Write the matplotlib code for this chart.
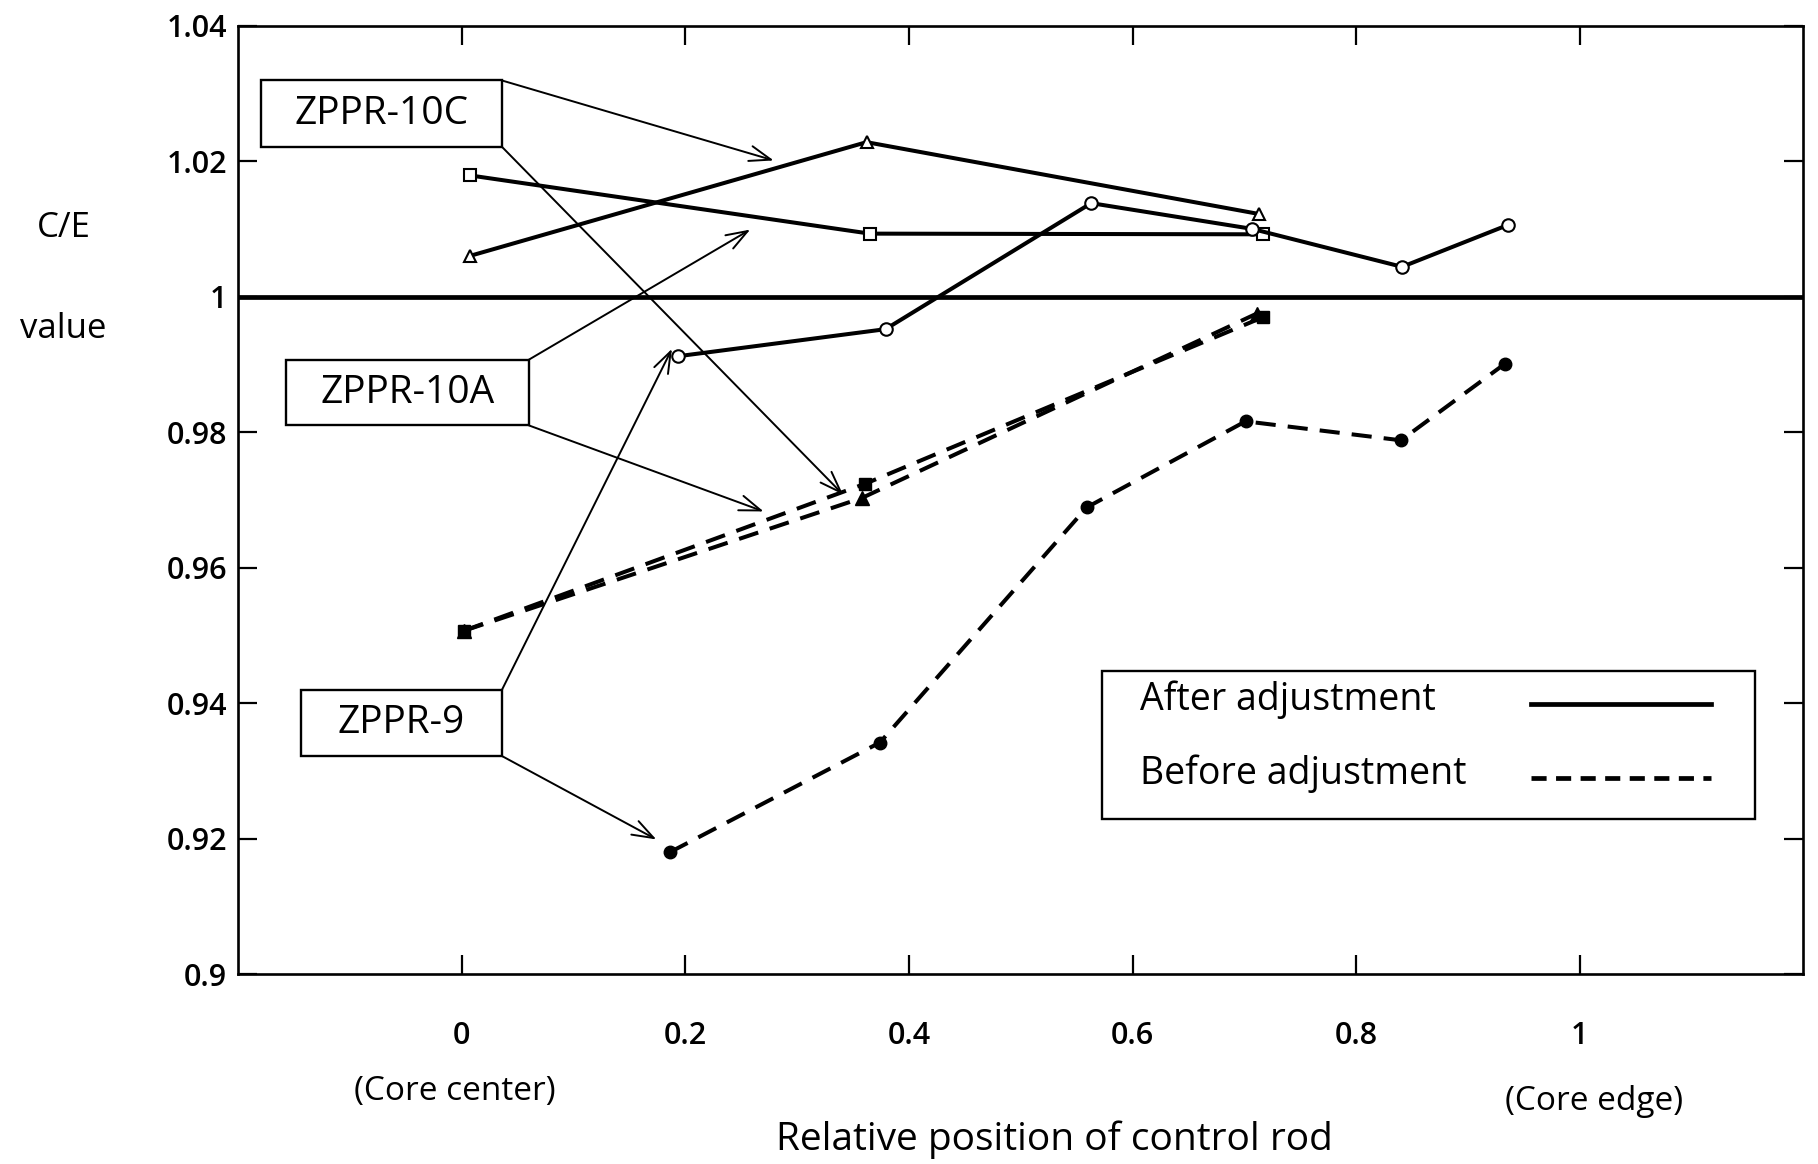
import matplotlib
matplotlib.use('Agg')
import matplotlib.pyplot as plt
from matplotlib.lines import Line2D
from matplotlib.patches import Rectangle
from matplotlib.transforms import blended_transform_factory

plt.rcParams['font.family'] = ['Open Sans', 'DejaVu Sans']

# ---------------- data ----------------
x_10c_after = [0.007, 0.362, 0.713]
y_10c_after = [1.0060, 1.0228, 1.0122]
x_10a_after = [0.007, 0.365, 0.717]
y_10a_after = [1.0179, 1.0093, 1.0092]
x_9_after = [0.193, 0.379, 0.563, 0.707, 0.841, 0.936]
y_9_after = [0.9912, 0.9952, 1.0138, 1.0100, 1.0044, 1.0106]

x_10a_before = [0.002, 0.361, 0.717]
y_10a_before = [0.9507, 0.9724, 0.9970]
x_10c_before = [0.002, 0.358, 0.711]
y_10c_before = [0.9507, 0.9703, 0.9975]
x_9_before = [0.186, 0.374, 0.559, 0.701, 0.840, 0.933]
y_9_before = [0.9180, 0.9342, 0.9689, 0.9816, 0.9788, 0.9901]

x_ticks = [0, 0.2, 0.4, 0.6, 0.8, 1]
x_tick_labels = ['0', '0.2', '0.4', '0.6', '0.8', '1']
y_ticks = [0.9, 0.92, 0.94, 0.96, 0.98, 1.0, 1.02, 1.04]
y_tick_labels = ['0.9', '0.92', '0.94', '0.96', '0.98', '1', '1.02', '1.04']

legend_labels = ['After adjustment', 'Before adjustment']
case_labels = ['ZPPR-10C', 'ZPPR-10A', 'ZPPR-9']

# ---------------- figure ----------------
fig = plt.figure(figsize=(18.18, 11.64), dpi=100)
ax = fig.add_axes([0.131, 0.163, 0.861, 0.815])
ax.set_xlim(-0.2, 1.2)
ax.set_ylim(0.9, 1.04)

LW = 2.9
DASH = (0, (5, 3))
MS = 9

# reference line at C/E = 1
ax.axhline(1.0, color='black', lw=3.4, zorder=2)

# after adjustment (solid, open markers)
ax.plot(x_10c_after, y_10c_after, '-', color='black', lw=LW, marker='^', ms=MS,
        mfc='white', mec='black', mew=1.5, zorder=3)
ax.plot(x_10a_after, y_10a_after, '-', color='black', lw=LW, marker='s', ms=MS,
        mfc='white', mec='black', mew=1.5, zorder=3)
ax.plot(x_9_after, y_9_after, '-', color='black', lw=LW, marker='o', ms=MS,
        mfc='white', mec='black', mew=1.5, zorder=3)

# before adjustment (dashed, filled markers)
ax.plot(x_10a_before, y_10a_before, color='black', lw=LW, ls=DASH, marker='s', ms=MS,
        mfc='black', mec='black', zorder=3)
ax.plot(x_10c_before, y_10c_before, color='black', lw=LW, ls=DASH, marker='^', ms=MS + 1,
        mfc='black', mec='black', zorder=3)
ax.plot(x_9_before, y_9_before, color='black', lw=LW, ls=DASH, marker='o', ms=MS,
        mfc='black', mec='black', zorder=3)

# ---------------- ticks ----------------
ax.set_xticks(x_ticks)
ax.set_xticklabels(x_tick_labels, fontweight='semibold')
ax.set_yticks(y_ticks)
ax.set_yticklabels(y_tick_labels, fontweight='semibold')
ax.tick_params(axis='both', direction='in', length=14, width=1.6,
               top=True, right=True, labelsize=22)
ax.tick_params(axis='x', pad=34)
ax.tick_params(axis='y', pad=8)
for sp in ax.spines.values():
    sp.set_linewidth(1.9)

# ---------------- label boxes with arrows ----------------
boxes = {
    'ZPPR-10C': (-0.180, 0.036, 1.0221, 1.0319),
    'ZPPR-10A': (-0.157, 0.060, 0.9810, 0.9907),
    'ZPPR-9': (-0.144, 0.036, 0.9322, 0.9420),
}
targets = {
    'ZPPR-10C': [(0.279, 1.0201), (0.341, 0.9708)],
    'ZPPR-10A': [(0.258, 1.0099), (0.270, 0.9683)],
    'ZPPR-9': [(0.188, 0.9923), (0.174, 0.9199)],
}
for name in case_labels:
    x0, x1, yb, yt = boxes[name]
    ax.add_patch(Rectangle((x0, yb), x1 - x0, yt - yb, fc='white', ec='black',
                           lw=1.7, zorder=5))
    ax.text((x0 + x1) / 2, (yb + yt) / 2, name, ha='center', va='center',
            fontsize=28, fontweight='medium', zorder=6)
    (tx1, ty1), (tx2, ty2) = targets[name]
    for (sx, sy), (tx, ty) in [((x1, yt), (tx1, ty1)), ((x1, yb), (tx2, ty2))]:
        ax.annotate('', xy=(tx, ty), xytext=(sx, sy), xycoords='data',
                    arrowprops=dict(arrowstyle='->,head_length=0.7,head_width=0.25',
                                    lw=1.4, color='black', shrinkA=0, shrinkB=0,
                                    mutation_scale=22),
                    zorder=4)

# ---------------- legend (text left, line sample right) ----------------
ax.add_patch(Rectangle((0.552, 0.164), 0.417, 0.156, transform=ax.transAxes,
                       fc='white', ec='black', lw=1.7, zorder=5))
legend_styles = ['-', (0, (3.2, 2))]
legend_rows_y = [0.285, 0.207]
for label, style, ry in zip(legend_labels, legend_styles, legend_rows_y):
    ax.text(0.576, ry + 0.004, label, transform=ax.transAxes, ha='left', va='center',
            fontsize=27, fontweight='medium', zorder=6)
    ax.add_line(Line2D([0.826, 0.941], [ry, ry], transform=ax.transAxes,
                       color='black', lw=3.4, ls=style, zorder=6))

# ---------------- texts ----------------
trans = blended_transform_factory(ax.transData, fig.transFigure)
ax.text(-0.006, 0.062, '(Core center)', transform=trans, ha='center', va='center',
        fontsize=24, fontweight='medium')
ax.text(1.013, 0.054, '(Core edge)', transform=trans, ha='center', va='center',
        fontsize=24, fontweight='medium')
fig.text(0.580, 0.021, 'Relative position of control rod', ha='center', va='center',
         fontsize=28, fontweight='medium')
fig.text(0.035, 0.804, 'C/E', ha='center', va='center', fontsize=25, fontweight='medium')
fig.text(0.035, 0.717, 'value', ha='center', va='center', fontsize=25, fontweight='medium')

fig.savefig('out.png', dpi=100)
